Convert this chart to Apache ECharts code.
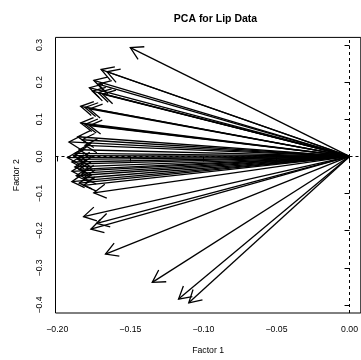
<!DOCTYPE html>
<html>
<head>
<meta charset="utf-8">
<script src="https://cdn.jsdelivr.net/npm/echarts@6/dist/echarts.min.js"></script>
<style>html,body{margin:0;padding:0;background:#fff}#c{width:361px;height:360px}</style>
</head>
<body>
<div id="c"></div>
<script>
// Arrow end points (Factor 1, Factor 2); all arrows start at the origin
const factor1 = [
  -0.150, -0.170, -0.166, -0.175, -0.172, -0.178, -0.176, -0.172, -0.169,
  -0.184, -0.181, -0.178, -0.184, -0.181, -0.178, -0.186, -0.192, -0.183,
  -0.181, -0.185, -0.188, -0.193, -0.189, -0.186, -0.190, -0.184, -0.188,
  -0.185, -0.190, -0.183, -0.187, -0.182, -0.190, -0.185, -0.182, -0.175,
  -0.182, -0.173, -0.177, -0.167, -0.135, -0.117, -0.110
];
const factor2 = [
  0.293, 0.234, 0.228, 0.205, 0.195, 0.185, 0.176, 0.172, 0.168,
  0.135, 0.132, 0.128, 0.090, 0.086, 0.083, 0.053, 0.039, 0.045,
  0.030, 0.018, 0.008, -0.003, 0.002, -0.008, -0.015, -0.020, -0.028,
  -0.035, -0.040, -0.045, -0.052, -0.058, -0.068, -0.072, -0.078, -0.098,
  -0.162, -0.180, -0.196, -0.263, -0.339, -0.384, -0.394
];
const xTicks = [-0.20, -0.15, -0.10, -0.05, 0.00];
const yTicks = [-0.4, -0.3, -0.2, -0.1, 0.0, 0.1, 0.2, 0.3];
const titleText = 'PCA for Lip Data';
const xName = 'Factor 1';
const yName = 'Factor 2';

const FONT = 'Liberation Sans';
const fmt = (v, d) => {
  const s = Math.abs(v).toFixed(d);
  return (v < -1e-9 ? '\u2212' : '') + s;
};
const data = factor1.map((x, i) => [x, factor2[i]]);

const chart = echarts.init(document.getElementById('c'), null, {renderer: 'canvas'});
chart.setOption({
  animation: false,
  backgroundColor: '#fff',
  title: {
    text: titleText,
    left: 210.5, top: 9, textAlign: 'center',
    textStyle: {fontFamily: FONT, fontWeight: 'bold', fontSize: 10.5, color: '#000'}
  },
  grid: {
    left: 55.5, top: 37.4, width: 309.5, height: 276,
    show: true, borderColor: '#000', borderWidth: 1, backgroundColor: 'transparent'
  },
  xAxis: {
    type: 'value', min: -0.2012, max: 0.0077,
    name: xName, nameLocation: 'middle', nameGap: 33,
    nameTextStyle: {fontFamily: FONT, fontSize: 8.7, color: '#000'},
    axisLine: {show: false},
    splitLine: {show: false},
    axisTick: {show: true, inside: false, length: 5, customValues: xTicks, lineStyle: {color: '#000', width: 1}},
    axisLabel: {customValues: xTicks, margin: 12, fontFamily: FONT, fontSize: 8.7, color: '#000',
      formatter: v => fmt(v, 2)}
  },
  yAxis: {
    type: 'value', min: -0.4215, max: 0.3205,
    name: yName, nameLocation: 'middle', nameGap: 34,
    nameTextStyle: {fontFamily: FONT, fontSize: 8.7, color: '#000'},
    axisLine: {show: false},
    splitLine: {show: false},
    axisTick: {show: true, inside: false, length: 5, customValues: yTicks, lineStyle: {color: '#000', width: 1}},
    axisLabel: {customValues: yTicks, margin: 11, rotate: 90, fontFamily: FONT, fontSize: 8.7, color: '#000',
      formatter: v => fmt(v, 1)}
  },
  series: [
    {
      type: 'line', data: [], silent: true,
      markLine: {
        silent: true, symbol: ['none', 'none'], label: {show: false},
        lineStyle: {color: '#000', type: [3, 3], width: 1},
        data: [{xAxis: 0}, {yAxis: 0}]
      }
    },
    {
      type: 'custom',
      data: data,
      encode: {x: 0, y: 1},
      clip: false,
      renderItem: function (params, api) {
        const p0 = api.coord([0, 0]);
        const p1 = api.coord([api.value(0), api.value(1)]);
        const ang = Math.atan2(p0[1] - p1[1], p0[0] - p1[0]);
        const L = 14, a = Math.PI / 6;
        const h1 = [p1[0] + L * Math.cos(ang + a), p1[1] + L * Math.sin(ang + a)];
        const h2 = [p1[0] + L * Math.cos(ang - a), p1[1] + L * Math.sin(ang - a)];
        const st = {stroke: '#000', lineWidth: 1.3, fill: null};
        return {
          type: 'group',
          children: [
            {type: 'line', shape: {x1: p0[0], y1: p0[1], x2: p1[0], y2: p1[1]}, style: st},
            {type: 'polyline', shape: {points: [h1, p1, h2]}, style: st}
          ]
        };
      }
    }
  ]
});
</script>
</body>
</html>
